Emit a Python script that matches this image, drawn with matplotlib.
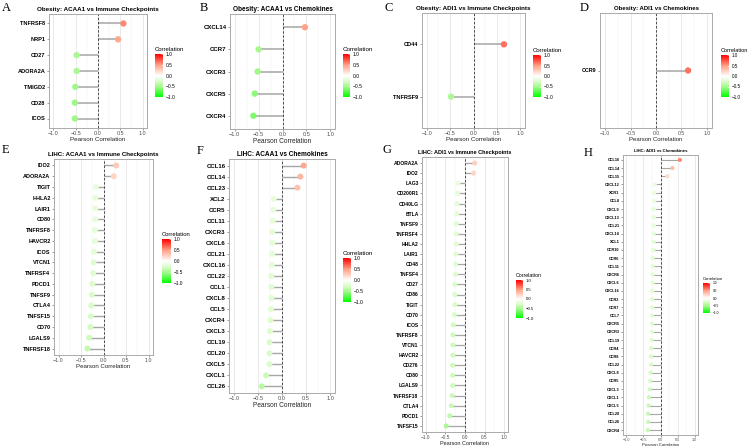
import matplotlib
matplotlib.use("Agg")
import matplotlib.pyplot as plt
from matplotlib.colors import LinearSegmentedColormap, Normalize
from matplotlib.cm import ScalarMappable
from matplotlib.ticker import MultipleLocator

# A: Obesity, ACAA1 vs immune checkpoints
a_genes = ["TNFRSF8", "NRP1", "CD27", "ADORA2A", "TMIGD2", "CD28", "ICOS"]
a_corr = [0.57, 0.45, -0.48, -0.48, -0.51, -0.52, -0.52]

# B: Obesity, ACAA1 vs chemokines
b_genes = ["CXCL14", "CCR7", "CXCR3", "CXCR5", "CXCR4"]
b_corr = [0.47, -0.50, -0.52, -0.58, -0.61]

# C: Obesity, ADI1 vs immune checkpoints
c_genes = ["CD44", "TNFRSF9"]
c_corr = [0.65, -0.48]

# D: Obesity, ADI1 vs chemokines
d_genes = ["CCR9"]
d_corr = [0.63]

# E: LIHC, ACAA1 vs immune checkpoints
e_genes = ["IDO2", "ADORA2A", "TIGIT", "HHLA2", "LAIR1", "CD80", "TNFRSF8", "HAVCR2",
           "ICOS", "VTCN1", "TNFRSF4", "PDCD1", "TNFSF9", "CTLA4", "TNFSF15", "CD70",
           "LGALS9", "TNFRSF18"]
e_corr = [0.28, 0.23, -0.17, -0.18, -0.18, -0.18, -0.19, -0.19,
          -0.21, -0.22, -0.23, -0.25, -0.26, -0.27, -0.28, -0.29,
          -0.32, -0.36]

# F: LIHC, ACAA1 vs chemokines
f_genes = ["CCL16", "CCL14", "CCL23", "XCL2", "CCR5", "CCL11", "CXCR3", "CXCL6",
           "CCL21", "CXCL16", "CCL22", "CCL1", "CXCL8", "CCL5", "CXCR4", "CXCL3",
           "CCL19", "CCL20", "CXCL5", "CXCL1", "CCL26"]
f_corr = [0.45, 0.38, 0.32, -0.17, -0.18, -0.19, -0.20, -0.20,
          -0.20, -0.21, -0.22, -0.22, -0.22, -0.23, -0.24, -0.25,
          -0.26, -0.26, -0.26, -0.33, -0.42]

# G: LIHC, ADI1 vs immune checkpoints
g_genes = ["ADORA2A", "IDO2", "LAG3", "CD200R1", "CD40LG", "BTLA", "TNFSF9", "TNFRSF4",
           "HHLA2", "LAIR1", "CD48", "TNFSF4", "CD27", "CD86", "TIGIT", "CD70", "ICOS",
           "TNFRSF8", "VTCN1", "HAVCR2", "CD276", "CD80", "LGALS9", "TNFRSF18", "CTLA4",
           "PDCD1", "TNFSF15"]
g_corr = [0.25, 0.22, -0.18, -0.19, -0.20, -0.21, -0.22, -0.22,
          -0.22, -0.23, -0.24, -0.24, -0.26, -0.26, -0.26, -0.27, -0.30,
          -0.31, -0.31, -0.31, -0.32, -0.32, -0.32, -0.33, -0.35,
          -0.39, -0.48]

# H: LIHC, ADI1 vs chemokines
h_genes = ["CCL16", "CCL14", "CCL15", "CXCL12", "XCR1", "CCL8", "CXCL9", "CXCL13",
           "CCL21", "CXCL14", "XCL1", "CCR10", "CCR6", "CCL11", "CXCR6", "CXCL6",
           "CXCL16", "CCR2", "CCR7", "CCL7", "CXCR5", "CXCR3", "CCL19", "CCR4",
           "CCR8", "CCL22", "CXCL8", "CCR5", "CXCL3", "CXCL1", "CXCL5", "CCL20",
           "CCL26", "CXCR4"]
h_corr = [0.57, 0.35, 0.20, -0.17, -0.18, -0.18, -0.19, -0.19,
          -0.19, -0.20, -0.20, -0.21, -0.23, -0.23, -0.23, -0.23,
          -0.24, -0.24, -0.24, -0.25, -0.25, -0.25, -0.26, -0.27,
          -0.28, -0.28, -0.29, -0.30, -0.32, -0.34, -0.35, -0.36,
          -0.36, -0.37]

titles = ["Obesity: ACAA1 vs Immune Checkpoints", "Obesity: ACAA1 vs Chemokines",
          "Obesity: ADI1 vs Immune Checkpoints", "Obesity: ADI1 vs Chemokines",
          "LIHC: ACAA1 vs Immune Checkpoints", "LIHC: ACAA1 vs Chemokines",
          "LIHC: ADI1 vs Immune Checkpoints", "LIHC: ADI1 vs Chemokines"]
letters = ["A", "B", "C", "D", "E", "F", "G", "H"]
cbar_ticks = [-1.0, -0.5, 0.0, 0.5, 1.0]

W, H = 748, 446
plt.rcParams['font.family'] = ['Liberation Sans', 'DejaVu Sans']
plt.rcParams['axes.unicode_minus'] = True

# green - white - red, roughly like ggplot's Lab gradient
cmap = LinearSegmentedColormap.from_list(
    "gwr",
    [(0.0, "#00FF00"), (0.25, "#A8F890"), (0.375, "#DEFCCD"), (0.5, "#FFFFFF"),
     (0.625, "#FFCFC0"), (0.75, "#FF9E84"), (1.0, "#FF0000")])
norm = Normalize(-1, 1)


def px_rect(l, t, r, b):
    return [l / W, 1 - b / H, (r - l) / W, (b - t) / H]


# layout in pixels: panel box, colorbar box, letter position, font scale, marker size
layout = [
    dict(box=(49, 14, 147, 128), cb=(155, 54, 163, 97), let=(2, 8), fs=4.1, ms=4.6, lw=1.1),
    dict(box=(230, 14, 335, 129), cb=(343, 54, 350, 97), let=(200, 8), fs=4.3, ms=4.6, lw=1.1),
    dict(box=(422, 13, 525, 128), cb=(533, 55, 541, 97), let=(384, 8), fs=4.1, ms=4.6, lw=1.1),
    dict(box=(600, 13, 712, 128), cb=(721, 55, 729, 97), let=(580, 8), fs=3.9, ms=4.6, lw=1.1),
    dict(box=(54, 159, 153, 355), cb=(162, 239, 171, 283), let=(2, 150), fs=4.0, ms=4.3, lw=1.0),
    dict(box=(229, 159, 335, 393), cb=(343, 258, 351, 302), let=(197, 151), fs=4.3, ms=4.3, lw=1.0),
    dict(box=(422, 157, 508, 432), cb=(516, 280, 523, 318), let=(382, 150), fs=3.6, ms=3.6, lw=0.9),
    dict(box=(623, 155, 698, 435), cb=(703, 283, 710, 313), let=(584, 153), fs=2.8, ms=3.0, lw=0.8),
]

panels = [(a_genes, a_corr), (b_genes, b_corr), (c_genes, c_corr), (d_genes, d_corr),
          (e_genes, e_corr), (f_genes, f_corr), (g_genes, g_corr), (h_genes, h_corr)]

fig = plt.figure(figsize=(W / 100, H / 100), dpi=100)
fig.patch.set_facecolor("white")

for (genes, corr), title, letter, lay in zip(panels, titles, letters, layout):
    ax = fig.add_axes(px_rect(*lay["box"]))
    fs = lay["fs"]
    n = len(genes)
    ys = list(range(n))[::-1]

    # lollipops
    for y, v in zip(ys, corr):
        ax.plot([0, v], [y, y], color="#a6a6a6", lw=lay["lw"], solid_capstyle="butt", zorder=2)
    ax.scatter(corr, ys, c=corr, cmap=cmap, norm=norm, s=lay["ms"] ** 2,
               edgecolors="none", zorder=3)
    ax.axvline(0, color="#333333", ls=(0, (3, 2)), lw=0.6, zorder=2.5)

    ax.set_xlim(-1.1, 1.1)
    ax.set_ylim(-0.6, n - 1 + 0.6)
    ax.set_yticks(ys)
    ax.set_yticklabels(genes, fontweight="bold", fontsize=fs, color="black")
    ax.xaxis.set_minor_locator(MultipleLocator(0.25))
    ax.set_xticks([-1, -0.5, 0, 0.5, 1])
    ax.set_xticklabels(["\u22121.0", "\u22120.5", "0.0", "0.5", "1.0"], fontsize=fs * 0.95, color="#4d4d4d")
    ax.grid(axis="x", which="major", color="#e6e6e6", lw=0.6)
    ax.grid(axis="x", which="minor", color="#f0f0f0", lw=0.35)
    ax.grid(axis="y", visible=False)
    ax.set_axisbelow(True)
    ax.tick_params(axis="both", which="major", length=1.5, width=0.4, color="#555555", pad=1)
    ax.tick_params(axis="x", which="minor", length=0)
    for s in ax.spines.values():
        s.set_color("#aaaaaa")
        s.set_linewidth(0.7)
    ax.set_xlabel("Pearson Correlation", fontsize=fs * 1.1, color="#222222", labelpad=0.5)
    ax.set_title(title, fontsize=fs * 1.1, fontweight="bold", pad=2.5)

    # colour legend
    cax = fig.add_axes(px_rect(*lay["cb"]))
    cb = fig.colorbar(ScalarMappable(norm=norm, cmap=cmap), cax=cax, ticks=cbar_ticks)
    cb.outline.set_visible(False)
    cb.ax.set_yticklabels(["\u22121.0", "\u22120.5", "0.0", "0.5", "1.0"])
    cb.ax.tick_params(labelsize=fs * 0.85, length=1.2, width=0.4, color="white", direction="in", pad=2)
    l, t, r, b = lay["cb"]
    fig.text(l / W, 1 - (t - 2) / H, "Correlation", fontsize=fs * 1.05, ha="left", va="bottom")

    # panel letter
    lx, ly = lay["let"]
    fig.text(lx / W, 1 - ly / H, letter, fontsize=9, family=["Liberation Serif", "DejaVu Serif"],
             ha="left", va="center")

fig.savefig("out.png", dpi=100, facecolor="white")
